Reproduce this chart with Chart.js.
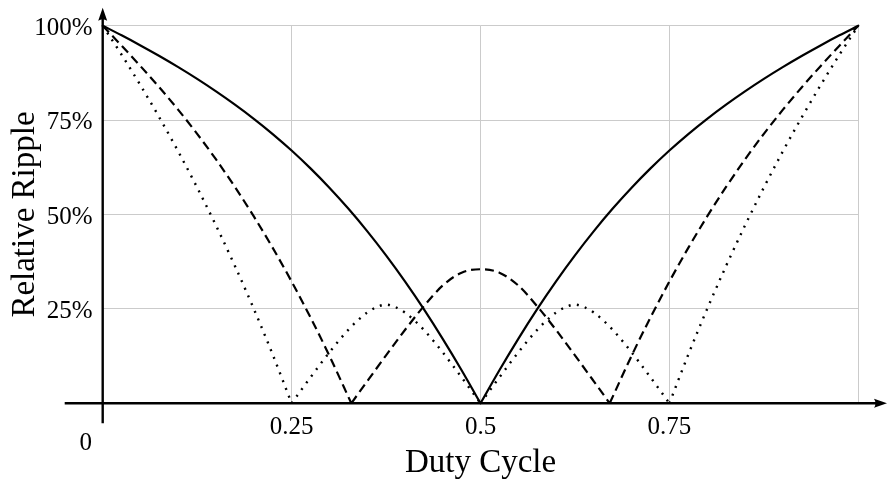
<!DOCTYPE html>
<html><head><meta charset="utf-8">
<script src="https://cdn.jsdelivr.net/npm/chart.js@4.4.1/dist/chart.umd.min.js"></script>
<style>html,body{margin:0;padding:0;background:#fff}#wrap{width:887px;height:480px}</style>
</head><body><div id="wrap"><canvas id="c" width="887" height="480"></canvas></div>
<script>
// ---- text ----
const xTickLabels = ['0.25', '0.5', '0.75'];
const yTickLabels = ['25%', '50%', '75%', '100%'];
const xTitle = 'Duty Cycle';
const yTitle = 'Relative Ripple';
const originLabel = '0';

// ---- series (duty cycle -> relative ripple %, null = break at a cusp) ----
const solidDuty = [0,0.025,0.05,0.075,0.1,0.125,0.15,0.175,0.2,0.225,0.25,0.275,0.3,0.325,0.35,0.375,0.4,0.425,0.45,0.475,0.5,
  0.5,
  0.5,0.525,0.55,0.575,0.6,0.625,0.65,0.675,0.7,0.725,0.75,0.775,0.8,0.825,0.85,0.875,0.9,0.925,0.95,0.975,1];
const solidRipple = [100,97.45,94.78,91.98,89.03,85.92,82.61,79.10,75.35,71.31,66.94,62.21,57.10,51.58,45.61,39.19,32.31,24.95,17.08,8.76,0,
  null,
  0,8.76,17.08,24.95,32.31,39.19,45.61,51.58,57.10,62.21,66.94,71.31,75.35,79.10,82.61,85.92,89.03,91.98,94.78,97.45,100];

const dashedDuty = [0,0.025,0.05,0.075,0.1,0.125,0.15,0.175,0.2,0.225,0.25,0.275,0.3,0.329,
  0.329,
  0.329,0.35,0.375,0.4,0.425,0.45,0.475,0.5,0.525,0.55,0.575,0.6,0.625,0.65,0.671,
  0.671,
  0.671,0.7,0.725,0.75,0.775,0.8,0.825,0.85,0.875,0.9,0.925,0.95,0.975,1];
const dashedRipple = [100,94.71,89.29,83.65,77.70,71.36,64.57,57.29,49.49,41.16,32.25,22.74,12.60,0,
  null,
  0,5.82,12.69,19.42,25.70,31.20,34.60,35.50,34.60,31.20,25.70,19.42,12.69,5.82,0,
  null,
  0,12.60,22.74,32.25,41.16,49.49,57.29,64.57,71.36,77.70,83.65,89.29,94.71,100];

const dottedDuty = [0,0.025,0.05,0.075,0.1,0.125,0.15,0.175,0.2,0.225,0.25,
  0.25,
  0.25,0.2625,0.275,0.2875,0.3,0.3125,0.325,0.3375,0.35,0.3625,0.375,0.3875,0.4,0.4125,0.425,0.4375,0.45,0.4625,0.475,0.4875,0.5,
  0.5,
  0.5,0.5125,0.525,0.5375,0.55,0.5625,0.575,0.5875,0.6,0.6125,0.625,0.6375,0.65,0.6625,0.675,0.6875,0.7,0.7125,0.725,0.7375,0.75,
  0.75,
  0.75,0.775,0.8,0.825,0.85,0.875,0.9,0.925,0.95,0.975,1];
const dottedRipple = [100,92.31,84.21,75.68,66.67,57.14,47.06,36.36,25.00,12.90,0,
  null,
  0,3.45,6.87,10.23,13.49,16.59,19.45,21.97,24.03,25.47,26.15,25.47,24.03,21.97,19.45,16.59,13.49,10.23,6.87,3.45,0,
  null,
  0,3.45,6.87,10.23,13.49,16.59,19.45,21.97,24.03,25.47,26.15,25.47,24.03,21.97,19.45,16.59,13.49,10.23,6.87,3.45,0,
  null,
  0,12.90,25.00,36.36,47.06,57.14,66.67,75.68,84.21,92.31,100];

const toPoints = (xs, ys) => xs.map((x, i) => ({x: x, y: ys[i]}));

const FONT = "'Liberation Serif', 'DejaVu Serif', serif";
const GRID = '#cbcbcb';

const axesPlugin = {
  id: 'arrowAxes',
  afterDatasetsDraw(chart) {
    const {ctx, scales: {x, y}, chartArea} = chart;
    const x0 = x.getPixelForValue(0);
    const y0 = y.getPixelForValue(0);
    const W = chart.width;
    ctx.save();
    ctx.strokeStyle = '#000';
    ctx.fillStyle = '#000';
    ctx.lineWidth = 2.4;
    ctx.lineCap = 'butt';
    ctx.beginPath();
    ctx.moveTo(x0 - 38, y0);
    ctx.lineTo(W - 6, y0);
    ctx.stroke();
    ctx.beginPath();
    ctx.moveTo(x0, y0 + 20);
    ctx.lineTo(x0, chartArea.top - 12);
    ctx.stroke();
    const tipY = chartArea.top - 18;
    ctx.beginPath();
    ctx.moveTo(x0, tipY);
    ctx.lineTo(x0 - 4.5, tipY + 13);
    ctx.quadraticCurveTo(x0, tipY + 10, x0 + 4.5, tipY + 13);
    ctx.closePath();
    ctx.fill();
    const tipX = W;
    ctx.beginPath();
    ctx.moveTo(tipX, y0);
    ctx.lineTo(tipX - 13, y0 - 4.5);
    ctx.quadraticCurveTo(tipX - 10, y0, tipX - 13, y0 + 4.5);
    ctx.closePath();
    ctx.fill();
    ctx.font = '25px ' + FONT;
    ctx.textAlign = 'center';
    ctx.textBaseline = 'middle';
    ctx.fillText(originLabel, x0 - 17, y0 + 40);
    ctx.restore();
  }
};

const common = {
  pointRadius: 0,
  pointHoverRadius: 0,
  borderColor: '#000',
  backgroundColor: '#000',
  fill: false,
  spanGaps: false,
  cubicInterpolationMode: 'monotone',
  clip: false
};

new Chart(document.getElementById('c'), {
  type: 'line',
  data: {
    datasets: [
      Object.assign({label: 'solid', data: toPoints(solidDuty, solidRipple), borderWidth: 2.2, borderCapStyle: 'round'}, common),
      Object.assign({label: 'dashed', data: toPoints(dashedDuty, dashedRipple), borderWidth: 2.2, borderDash: [9, 5]}, common),
      Object.assign({label: 'dotted', data: toPoints(dottedDuty, dottedRipple), borderWidth: 2.4, borderDash: [2, 6.3]}, common)
    ]
  },
  options: {
    responsive: false,
    animation: false,
    devicePixelRatio: 1,
    layout: {padding: {left: 0, right: 28.7, top: 25.7, bottom: 0}},
    plugins: {legend: {display: false}, tooltip: {enabled: false}, title: {display: false}},
    scales: {
      x: {
        type: 'linear', min: 0, max: 1,
        afterFit: (s) => { s.height = 76.7; },
        border: {display: false},
        grid: {drawTicks: false, lineWidth: 1,
               color: (c) => (c.tick && Math.abs(c.tick.value) < 1e-9) ? 'rgba(0,0,0,0)' : GRID},
        ticks: {stepSize: 0.25, padding: 9, color: '#000', maxRotation: 0, autoSkip: false,
                font: {family: FONT, size: 25},
                callback: (v) => xTickLabels.find(l => Math.abs(parseFloat(l) - v) < 1e-6) || ''},
        title: {display: true, text: xTitle, color: '#000',
                font: {family: FONT, size: 33, lineHeight: 1}, padding: {top: 0, bottom: 0.5}}
      },
      y: {
        type: 'linear', min: 0, max: 100,
        afterFit: (s) => { s.width = 102.7; },
        border: {display: false},
        grid: {drawTicks: false, lineWidth: 1,
               color: (c) => (c.tick && Math.abs(c.tick.value) < 1e-9) ? 'rgba(0,0,0,0)' : GRID},
        ticks: {stepSize: 25, padding: 10, color: '#000', labelOffset: 2.5,
                font: {family: FONT, size: 25},
                callback: (v) => yTickLabels.find(l => parseFloat(l) === v) || ''},
        title: {display: true, text: yTitle, color: '#000',
                font: {family: FONT, size: 33, lineHeight: 1}, padding: {top: 8.5, bottom: 0}}
      }
    }
  },
  plugins: [axesPlugin]
});
</script>
</body></html>
